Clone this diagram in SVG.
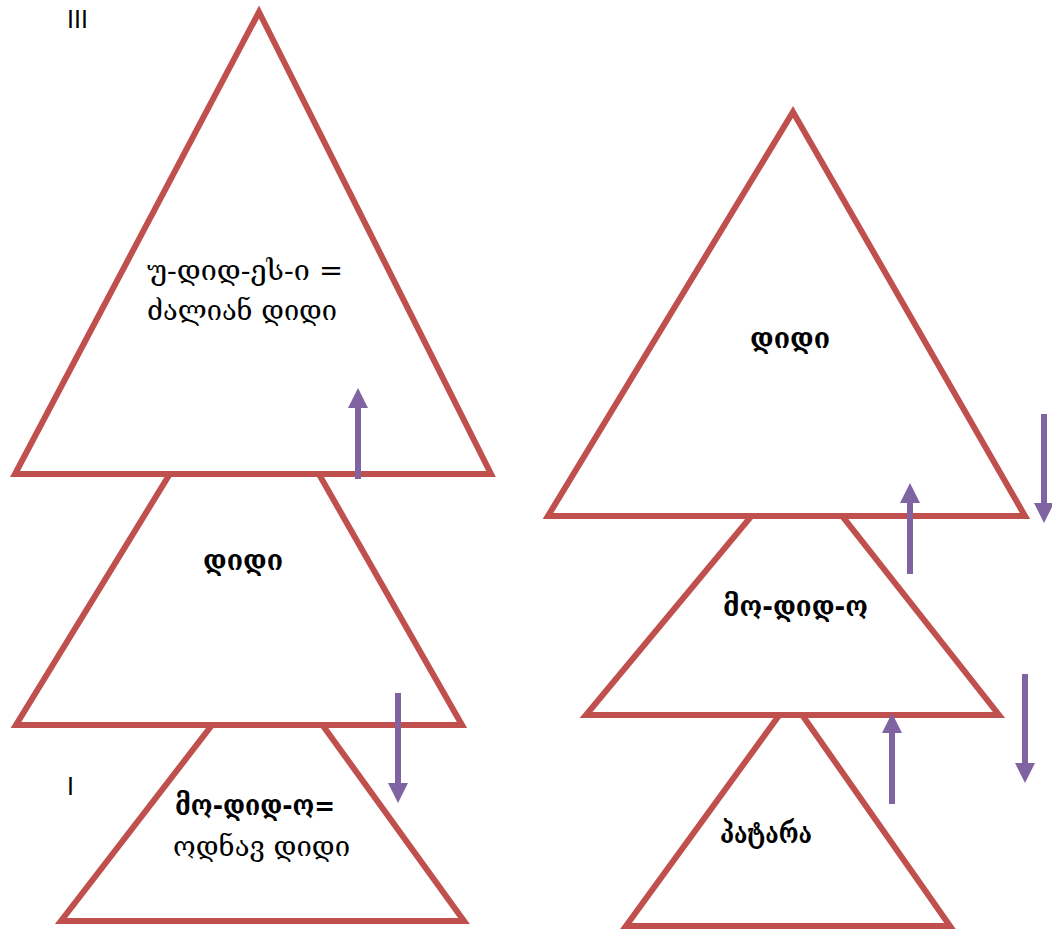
<svg xmlns="http://www.w3.org/2000/svg" width="1052" height="931" viewBox="0 0 1052 931">
<style>
.tri{fill:#fff;stroke:#C0504D;stroke-width:6;stroke-linejoin:miter}
.t{font-family:"DejaVu Serif","DejaVu Sans",sans-serif;font-size:28px;fill:#000}
.b{font-weight:bold}
.r{font-family:"Liberation Sans",Arial,sans-serif;font-size:25px;fill:#000}
.arr{stroke:#8064A2;stroke-width:6;fill:none}
</style>
<defs>
<marker id="ah" markerUnits="userSpaceOnUse" markerWidth="20" markerHeight="20" viewBox="0 0 20 20" refX="0" refY="10" orient="auto">
<path d="M0,0 L20,10 L0,20 Z" fill="#8064A2"/>
</marker>
</defs>
<g id="tri3"><polygon class="tri" points="269,651 464,921 61,921"/><text class="t b" x="175" y="815" textLength="160" lengthAdjust="spacingAndGlyphs">მო-დიდ-ო=</text><text class="t" x="173" y="856" textLength="177" lengthAdjust="spacingAndGlyphs">ოდნავ დიდი</text></g>
<g id="tri2"><polygon class="tri" points="247,348 462,725 16,725"/><text class="t b" x="203" y="570" textLength="80" lengthAdjust="spacingAndGlyphs">დიდი</text></g>
<g id="tri1"><polygon class="tri" points="259,12 491,474 15,474"/><text class="t" x="147" y="280" textLength="196" lengthAdjust="spacingAndGlyphs">უ-დიდ-ეს-ი =</text><text class="t" x="147" y="320" textLength="190" lengthAdjust="spacingAndGlyphs">ძალიან დიდი</text></g>
<g id="triC"><polygon class="tri" points="791,699 950,926 626,926"/><text class="t b" x="720" y="843" textLength="92" lengthAdjust="spacingAndGlyphs">პატარა</text></g>
<g id="triB"><polygon class="tri" points="798,460 999,715 586,715"/><text class="t b" x="723" y="616" textLength="145" lengthAdjust="spacingAndGlyphs">მო-დიდ-ო</text></g>
<g id="triA"><polygon class="tri" points="793,112 1025,516 548,516"/><text class="t b" x="750" y="348" textLength="80" lengthAdjust="spacingAndGlyphs">დიდი</text></g>
<g id="labels"><text class="r" x="67" y="28">III</text><text class="r" x="67" y="795">I</text></g>
<g id="connectors">
<line class="arr" x1="358" y1="479" x2="358" y2="408" marker-end="url(#ah)"/>
<line class="arr" x1="398" y1="693" x2="398" y2="783" marker-end="url(#ah)"/>
<line class="arr" x1="910" y1="574" x2="910" y2="503" marker-end="url(#ah)"/>
<line class="arr" x1="1044" y1="414" x2="1044" y2="503" marker-end="url(#ah)"/>
<line class="arr" x1="892" y1="804" x2="892" y2="733" marker-end="url(#ah)"/>
<line class="arr" x1="1025" y1="674" x2="1025" y2="763" marker-end="url(#ah)"/>
</g>
</svg>
